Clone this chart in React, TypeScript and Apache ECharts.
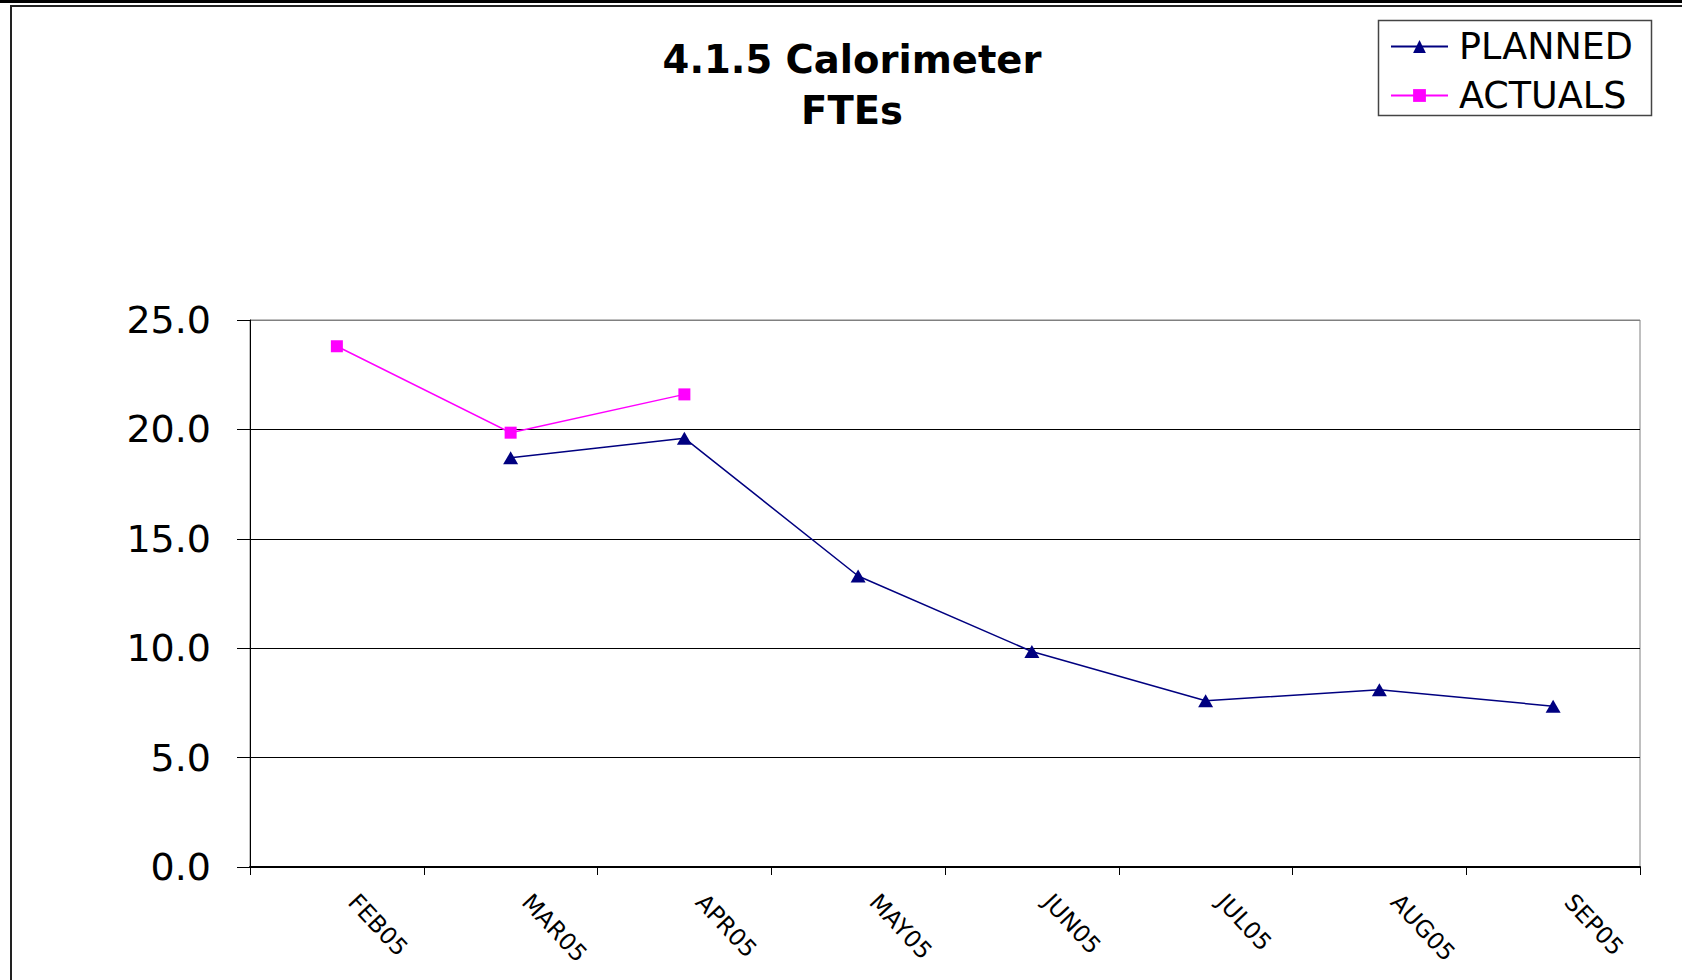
import React, { useEffect, useRef } from "react";
import * as echarts from "echarts";

const categories = ["FEB05", "MAR05", "APR05", "MAY05", "JUN05", "JUL05", "AUG05", "SEP05"];
const plannedValues: (number | null)[] = [null, 18.7, 19.6, 13.3, 9.85, 7.6, 8.1, 7.35];
const actualValues: (number | null)[] = [23.8, 19.85, 21.6, null, null, null, null, null];
const seriesNames = ["PLANNED", "ACTUALS"];
const titleLines = ["4.1.5 Calorimeter", "FTEs"];
const yMin = 0;
const yMax = 25;
const yInterval = 5;

const FONT = "'DejaVu Sans', 'Liberation Sans', sans-serif";

export default function App() {
  const ref = useRef<HTMLDivElement>(null);
  useEffect(() => {
    if (!ref.current) return;
    const chart = echarts.init(ref.current, undefined, { renderer: "svg" });
    chart.setOption({
      animation: false,
      backgroundColor: "#ffffff",
      title: {
        text: titleLines.join("\n"),
        left: 852,
        top: 34,
        textAlign: "center",
        padding: 0,
        textStyle: {
          fontFamily: FONT,
          fontSize: 38.5,
          fontWeight: "bold",
          color: "#000",
          lineHeight: 51,
        },
      },
      graphic: [
        { type: "rect", silent: true, shape: { x: 0, y: 0, width: 1682, height: 3 }, style: { fill: "#000" } },
        { type: "line", silent: true, shape: { x1: 10, y1: 6, x2: 1682, y2: 6 }, style: { stroke: "#222", lineWidth: 2 } },
        { type: "line", silent: true, shape: { x1: 11, y1: 5, x2: 11, y2: 980 }, style: { stroke: "#222", lineWidth: 2 } },
        {
          type: "rect",
          silent: true,
          shape: { x: 1378.5, y: 20.5, width: 273, height: 95 },
          style: { fill: "#fff", stroke: "#444", lineWidth: 1.5 },
        },
      ],
      legend: {
        data: seriesNames,
        orient: "vertical",
        left: 1390,
        top: 28,
        padding: 0,
        itemWidth: 57,
        itemHeight: 16,
        itemGap: 12,
        selectedMode: false,
        textStyle: {
          fontFamily: FONT,
          fontSize: 36.5,
          color: "#000",
          lineHeight: 34,
          padding: [0, 0, 0, 6],
        },
      },
      grid: {
        left: 250,
        right: 42,
        top: 320,
        bottom: 113,
        show: true,
        borderColor: "#808080",
        borderWidth: 1,
        backgroundColor: "transparent",
      },
      xAxis: {
        type: "category",
        data: categories,
        boundaryGap: true,
        axisLine: { show: true, lineStyle: { color: "#000", width: 2 } },
        axisTick: { show: true, length: 8, lineStyle: { color: "#000", width: 1 } },
        axisLabel: {
          interval: 0,
          rotate: -47,
          margin: 14,
          padding: [0, 0, 0, 23],
          fontFamily: FONT,
          fontSize: 23.5,
          color: "#000",
        },
        splitLine: { show: false },
      },
      yAxis: {
        type: "value",
        min: yMin,
        max: yMax,
        interval: yInterval,
        axisLine: { show: true, lineStyle: { color: "#000", width: 1 } },
        axisTick: { show: true, length: 13, lineStyle: { color: "#000", width: 1 } },
        axisLabel: {
          margin: 39,
          fontFamily: FONT,
          fontSize: 38,
          color: "#000",
          formatter: (v: number) => v.toFixed(1),
        },
        splitLine: {
          show: true,
          lineStyle: { color: ["#000", "#000", "#000", "#000", "#000", "#808080"], width: 1 },
        },
      },
      series: [
        {
          name: seriesNames[0],
          type: "line",
          data: plannedValues,
          symbol: "triangle",
          symbolSize: [15, 13],
          showAllSymbol: true,
          itemStyle: { color: "#000080" },
          lineStyle: { color: "#000080", width: 1.5 },
          z: 3,
        },
        {
          name: seriesNames[1],
          type: "line",
          data: actualValues,
          symbol: "rect",
          symbolSize: 12,
          showAllSymbol: true,
          itemStyle: { color: "#FF00FF" },
          lineStyle: { color: "#FF00FF", width: 1.5 },
          z: 4,
        },
      ],
    });
    return () => chart.dispose();
  }, []);
  return (
    <div
      ref={ref}
      style={{ position: "fixed", left: 0, top: 0, width: 1682, height: 980 }}
    />
  );
}
